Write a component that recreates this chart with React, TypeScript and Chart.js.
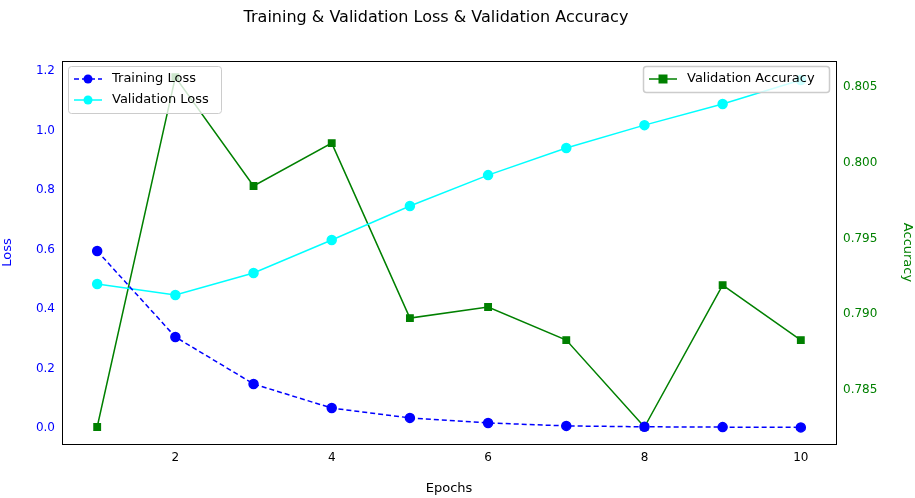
import React, { useEffect, useRef } from "react";
import { Chart, registerables } from "chart.js";
Chart.register(...registerables);

const epochs = [1, 2, 3, 4, 5, 6, 7, 8, 9, 10];
const trainLoss = [0.595, 0.306, 0.148, 0.067, 0.034, 0.017, 0.007, 0.004, 0.003, 0.002];
const valLoss = [0.484, 0.447, 0.521, 0.632, 0.746, 0.85, 0.941, 1.018, 1.089, 1.17];
const valAcc = [0.78256, 0.80566, 0.79847, 0.8013, 0.78975, 0.79048, 0.7883, 0.78256, 0.79193, 0.7883];
const xTicks = [2, 4, 6, 8, 10];
const lossTicks = [0, 0.2, 0.4, 0.6, 0.8, 1.0, 1.2];
const accTicks = [0.785, 0.79, 0.795, 0.8, 0.805];

const FONT = "DejaVu Sans";

const decor = {
  id: "decor",
  afterDraw(chart: any) {
    const ctx = chart.ctx;
    const a = chart.chartArea;
    ctx.save();
    ctx.strokeStyle = "#000";
    ctx.lineWidth = 1;
    ctx.strokeRect(a.left + 0.5, a.top + 0.5, a.right - a.left, a.bottom - a.top);
    ctx.fillStyle = "#000";
    ctx.font = `16px '${FONT}'`;
    ctx.textAlign = "center";
    ctx.textBaseline = "middle";
    ctx.fillText("Training & Validation Loss & Validation Accuracy", 436, 18);

    const drawLegend = (x: number, y: number, w: number, items: any[]) => {
      const h = items.length * 21 + 5;
      ctx.fillStyle = "rgba(255,255,255,0.8)";
      ctx.strokeStyle = "#ccc";
      ctx.beginPath();
      ctx.roundRect(x + 0.5, y + 0.5, w, h, 3);
      ctx.fill();
      ctx.stroke();
      items.forEach((it, i) => {
        const cy = y + 13 + i * 21;
        ctx.strokeStyle = it.color;
        ctx.lineWidth = 1.5;
        ctx.setLineDash(it.dash || []);
        ctx.beginPath();
        ctx.moveTo(x + 6, cy);
        ctx.lineTo(x + 34, cy);
        ctx.stroke();
        ctx.setLineDash([]);
        ctx.fillStyle = it.color;
        ctx.beginPath();
        if (it.square) ctx.rect(x + 20 - 4.5, cy - 4.5, 9, 9);
        else ctx.arc(x + 20, cy, 4.5, 0, Math.PI * 2);
        ctx.fill();
        ctx.fillStyle = "#000";
        ctx.font = `13px '${FONT}'`;
        ctx.textAlign = "left";
        ctx.fillText(it.label, x + 44, cy);
      });
    };
    drawLegend(68, 66, 153, [
      { label: "Training Loss", color: "blue", dash: [5, 3] },
      { label: "Validation Loss", color: "cyan" },
    ]);
    drawLegend(643, 66, 186, [{ label: "Validation Accuracy", color: "green", square: true }]);
    ctx.restore();
  },
};

export default function App() {
  const ref = useRef<HTMLCanvasElement>(null);
  useEffect(() => {
    const mk = (x: number[]) => epochs.map((e, i) => ({ x: e, y: x[i] }));
    const tickFont = { family: FONT, size: 12 };
    const chart = new Chart(ref.current!, {
      type: "line",
      data: {
        datasets: [
          { data: mk(trainLoss), borderColor: "blue", backgroundColor: "blue", borderDash: [5, 3], borderWidth: 1.5, pointRadius: 4.5, pointStyle: "circle", yAxisID: "y" },
          { data: mk(valLoss), borderColor: "cyan", backgroundColor: "cyan", borderWidth: 1.5, pointRadius: 4.5, pointStyle: "circle", yAxisID: "y" },
          { data: mk(valAcc), borderColor: "green", backgroundColor: "green", borderWidth: 1.5, pointRadius: 4.5, pointStyle: "rect", yAxisID: "y1" },
        ],
      },
      options: {
        animation: false,
        responsive: false,
        layout: { padding: { top: 61, left: 0, right: 0, bottom: 0 } },
        plugins: { legend: { display: false }, tooltip: { enabled: false } },
        scales: {
          x: {
            type: "linear", min: 0.55, max: 10.45,
            grid: { display: false, drawTicks: true, tickLength: 4, tickColor: "#000" },
            border: { display: false },
            afterBuildTicks: (s: any) => { s.ticks = xTicks.map((v) => ({ value: v })); },
            afterFit: (s: any) => { s.height = 54; },
            ticks: { color: "#000", font: tickFont, padding: 3 },
            title: { display: true, text: "Epochs", color: "#000", font: { family: FONT, size: 13 }, padding: 2 },
          },
          y: {
            position: "left", min: -0.0538, max: 1.2336,
            grid: { display: false, drawTicks: true, tickLength: 4, tickColor: "#000" },
            border: { display: false },
            afterBuildTicks: (s: any) => { s.ticks = lossTicks.map((v) => ({ value: v })); },
            afterFit: (s: any) => { s.width = 62; },
            ticks: { color: "blue", font: tickFont, padding: 3, callback: (v: any) => Number(v).toFixed(1) },
            title: { display: true, text: "Loss", color: "blue", font: { family: FONT, size: 13 }, padding: 0 },
          },
          y1: {
            position: "right", min: 0.78144, max: 0.80672,
            grid: { display: false, drawTicks: true, tickLength: 4, tickColor: "#000" },
            border: { display: false },
            afterBuildTicks: (s: any) => { s.ticks = accTicks.map((v) => ({ value: v })); },
            afterFit: (s: any) => { s.width = 79; },
            ticks: { color: "green", font: tickFont, padding: 3, callback: (v: any) => Number(v).toFixed(3) },
            title: { display: true, text: "Accuracy", color: "green", font: { family: FONT, size: 13 }, padding: 0 },
          },
        },
      },
      plugins: [decor],
    } as any);
    return () => chart.destroy();
  }, []);
  return (
    <div style={{ position: "fixed", left: 0, top: 0, width: 915, height: 498, background: "#fff" }}>
      <canvas ref={ref} width={915} height={498} style={{ width: 915, height: 498 }} />
    </div>
  );
}
